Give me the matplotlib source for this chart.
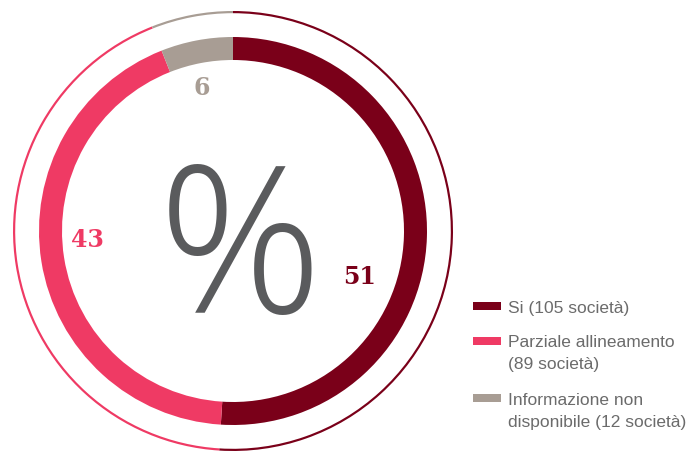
import matplotlib
matplotlib.use("Agg")
import matplotlib.pyplot as plt
from matplotlib.patches import Rectangle

# Data
categories = ["Si", "Parziale allineamento", "Informazione non disponibile"]
percentages = [51, 43, 6]
legend_lines = [["Si (105 società)"],
                ["Parziale allineamento", "(89 società)"],
                ["Informazione non", "disponibile (12 società)"]]
colors = ["#7a0019", "#ef3a64", "#a89d94"]

W, H = 691, 452
fig = plt.figure(figsize=(W / 100, H / 100), dpi=100)
ax = fig.add_axes([0, 0, 1, 1])

cx, cy = 233, H - 232

# Main donut
ax.pie(percentages, colors=colors, startangle=90, counterclock=False,
       radius=194, center=(cx, cy),
       wedgeprops=dict(width=23, linewidth=0))
# Thin outer ring
ax.pie(percentages, colors=colors, startangle=90, counterclock=False,
       radius=220, center=(cx, cy),
       wedgeprops=dict(width=2.2, linewidth=0))

ax.set_xlim(0, W)
ax.set_ylim(0, H)
ax.set_aspect("equal")
ax.axis("off")

# Value labels
label_pos = [(360, 277), (87, 240), (202, 88)]
for v, c, (px, py) in zip(percentages, colors, label_pos):
    ax.text(px, H - py, str(v), color=c, fontsize=17, fontweight="bold",
            family="DejaVu Serif", ha="center", va="center")

# Central percent sign
ax.text(240, H - 313, "%", color="#5a5b5d", fontsize=147,
        family="Open Sans", fontweight="light", ha="center", va="baseline")

# Legend
rect_tops = [303, 338, 395]
baselines = [[313], [347, 369], [405, 427]]
for lines, c, rt, bls in zip(legend_lines, colors, rect_tops, baselines):
    ax.add_patch(Rectangle((473, H - rt - 8), 28, 8, color=c, lw=0))
    for line, bl in zip(lines, bls):
        ax.text(508, H - bl, line, color="#6b6b6b", fontsize=12.5,
                family="Liberation Sans", ha="left", va="baseline")

fig.savefig("out.png", dpi=100)
